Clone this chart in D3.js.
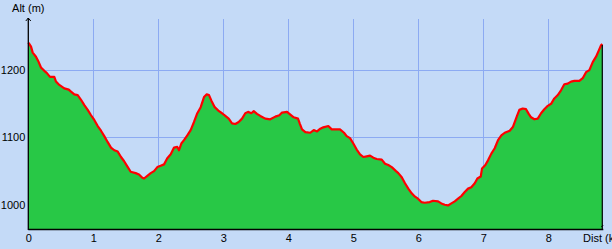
<!DOCTYPE html>
<html>
<head>
<meta charset="utf-8">
<script src="https://cdn.jsdelivr.net/npm/d3@7"></script>
<style>
  body { margin: 0; background: #c4daf7; }
  svg { display: block; }
  text { font-family: "Liberation Sans", Arial, sans-serif; font-size: 11px; fill: #000; }
</style>
</head>
<body>
<script>
var w = 612;
var h = 249;

// distance in km along the track
var dist = [0, 0.015, 0.042, 0.068, 0.118, 0.160, 0.195, 0.246, 0.283, 0.334, 0.400, 0.426, 0.477, 0.554, 0.622, 0.657, 0.708, 0.760, 0.811, 0.862, 0.914, 0.965,
    1.015, 1.068, 1.118, 1.169, 1.222, 1.272, 1.323, 1.375, 1.426, 1.472, 1.523, 1.575, 1.652, 1.703, 1.754, 1.780, 1.831, 1.883, 1.934, 1.985,
    2.037, 2.088, 2.138, 2.191, 2.242, 2.292, 2.318, 2.354, 2.395, 2.446, 2.498, 2.549, 2.600, 2.652, 2.703, 2.745, 2.780, 2.815, 2.868, 2.934, 2.980,
    3.031, 3.083, 3.134, 3.185, 3.237, 3.288, 3.338, 3.380, 3.431, 3.468, 3.518, 3.569, 3.646, 3.723, 3.800, 3.862, 3.903, 3.980,
    4.031, 4.083, 4.149, 4.175, 4.211, 4.262, 4.338, 4.391, 4.442, 4.492, 4.538, 4.615, 4.668, 4.718, 4.795, 4.857, 4.898, 4.949,
    5.000, 5.052, 5.103, 5.154, 5.206, 5.257, 5.308, 5.360, 5.437, 5.488, 5.538, 5.591, 5.657, 5.692, 5.745, 5.795, 5.846, 5.898, 5.949, 5.995,
    6.046, 6.098, 6.175, 6.226, 6.303, 6.354, 6.406, 6.457, 6.508, 6.560, 6.611, 6.662, 6.714, 6.765, 6.815, 6.868, 6.908, 6.960, 6.980,
    7.031, 7.072, 7.123, 7.175, 7.226, 7.277, 7.329, 7.406, 7.457, 7.518, 7.554, 7.606, 7.657, 7.698, 7.734, 7.785, 7.837, 7.888, 7.938, 7.991,
    8.042, 8.092, 8.145, 8.195, 8.246, 8.298, 8.349, 8.400, 8.477, 8.529, 8.580, 8.631, 8.683, 8.734, 8.775, 8.811, 8.830];

// altitude in metres
var alt = [1241, 1239, 1235, 1226, 1220, 1212, 1204, 1199, 1196, 1190, 1190, 1183, 1178, 1173, 1171, 1168, 1164, 1163, 1156, 1148, 1141, 1133,
    1126, 1117, 1110, 1102, 1093, 1085, 1081, 1079, 1071, 1065, 1057, 1049, 1047, 1045, 1040, 1039, 1043, 1047, 1050, 1056,
    1058, 1060, 1069, 1075, 1085, 1086, 1081, 1091, 1096, 1103, 1111, 1123, 1136, 1145, 1160, 1164, 1163, 1155, 1145, 1139, 1136,
    1132, 1128, 1121, 1120, 1123, 1128, 1136, 1138, 1136, 1139, 1135, 1132, 1128, 1127, 1131, 1133, 1137, 1138,
    1134, 1130, 1128, 1121, 1112, 1108, 1107, 1111, 1109, 1113, 1115, 1117, 1112, 1112, 1112, 1107, 1102, 1099,
    1091, 1082, 1075, 1071, 1072, 1073, 1070, 1068, 1067, 1061, 1059, 1056, 1050, 1047, 1041, 1032, 1024, 1017, 1012, 1009,
    1004, 1003, 1004, 1006, 1005, 1002, 1000, 999, 1002, 1005, 1009, 1013, 1019, 1024, 1026, 1032, 1039, 1042, 1054,
    1059, 1066, 1076, 1084, 1096, 1103, 1107, 1110, 1116, 1132, 1141, 1143, 1142, 1135, 1130, 1127, 1128, 1136, 1142, 1147,
    1150, 1158, 1163, 1170, 1179, 1180, 1183, 1184, 1184, 1188, 1197, 1200, 1212, 1220, 1229, 1237, 1239];

var xTicks = [0, 1, 2, 3, 4, 5, 6, 7, 8];
var yTicks = [1000, 1100, 1200];
var altDomain = [964, 1276];

var profile = dist.map(function(d, i){
    return [d, alt[i]];
});

var padLeft = 28.3, padRight = 602.3, padTop = 19, padBottom = 229;

var xScale = d3.scaleLinear()
    .domain([0, d3.max(dist)])
    .range([padLeft, padRight]);

var yScale = d3.scaleLinear()
    .domain(altDomain)
    .range([padBottom, padTop]);

var svg = d3.select("body")
    .append("svg")
    .attr("width", w)
    .attr("height", h);

svg.append("rect")
    .attr("width", w)
    .attr("height", h)
    .attr("fill", "#c4daf7");

// grid
svg.selectAll("line.vgrid")
    .data(xTicks.slice(1))
    .enter()
    .append("line")
    .attr("class", "vgrid")
    .attr("x1", function(d){ return Math.round(xScale(d)) + 0.5; })
    .attr("x2", function(d){ return Math.round(xScale(d)) + 0.5; })
    .attr("y1", padTop)
    .attr("y2", padBottom)
    .attr("stroke", "#8caaf2")
    .attr("stroke-width", 1);

svg.selectAll("line.hgrid")
    .data(yTicks)
    .enter()
    .append("line")
    .attr("class", "hgrid")
    .attr("x1", padLeft)
    .attr("x2", padRight)
    .attr("y1", function(d){ return Math.round(yScale(d)) + 0.5; })
    .attr("y2", function(d){ return Math.round(yScale(d)) + 0.5; })
    .attr("stroke", "#8caaf2")
    .attr("stroke-width", 1);

// profile
var area = d3.area()
    .x(function(d){ return xScale(d[0]); })
    .y0(padBottom)
    .y1(function(d){ return yScale(d[1]); });

var line = d3.line()
    .x(function(d){ return xScale(d[0]); })
    .y(function(d){ return yScale(d[1]); });

svg.append("path")
    .datum(profile)
    .attr("d", area)
    .attr("fill", "#28c846");

svg.append("path")
    .datum(profile)
    .attr("d", line)
    .attr("fill", "none")
    .attr("stroke", "#ff0000")
    .attr("stroke-width", 2.2)
    .attr("stroke-linejoin", "round");

var last = profile[profile.length - 1];
svg.append("line")
    .attr("x1", xScale(last[0]))
    .attr("x2", xScale(last[0]))
    .attr("y1", yScale(last[1]) + 1)
    .attr("y2", padBottom)
    .attr("stroke", "#000")
    .attr("stroke-width", 1.2);

// axes
var xAxis = d3.axisBottom(xScale)
    .tickValues(xTicks)
    .tickSize(0)
    .tickPadding(5)
    .tickFormat(d3.format("d"));

var yAxis = d3.axisLeft(yScale)
    .tickValues(yTicks)
    .tickSize(0)
    .tickPadding(3)
    .tickFormat(d3.format("d"));

var gx = svg.append("g")
    .attr("transform", "translate(0," + padBottom + ")")
    .call(xAxis);
gx.select(".domain").remove();
gx.selectAll("text").style("font-size", "11px").style("font-family", "Liberation Sans, Arial, sans-serif");

var gy = svg.append("g")
    .attr("transform", "translate(" + padLeft + ",0)")
    .call(yAxis);
gy.select(".domain").remove();
gy.selectAll("text").style("font-size", "11px").style("font-family", "Liberation Sans, Arial, sans-serif");

svg.append("line")
    .attr("x1", padLeft)
    .attr("x2", padRight + 1)
    .attr("y1", padBottom + 0.5)
    .attr("y2", padBottom + 0.5)
    .attr("stroke", "#000")
    .attr("stroke-width", 1.3);

svg.append("line")
    .attr("x1", padLeft)
    .attr("x2", padLeft)
    .attr("y1", padBottom + 1)
    .attr("y2", padTop - 1)
    .attr("stroke", "#000")
    .attr("stroke-width", 1.3);

svg.append("path")
    .attr("d", "M" + (padLeft - 2.5) + "," + (padTop + 2) + "L" + padLeft + "," + (padTop - 1) + "L" + (padLeft + 2.5) + "," + (padTop + 2))
    .attr("fill", "none")
    .attr("stroke", "#000")
    .attr("stroke-width", 1);

svg.append("path")
    .attr("d", "M" + (padRight - 1) + "," + (padBottom - 2) + "L" + (padRight + 1) + "," + (padBottom - 4))
    .attr("fill", "none")
    .attr("stroke", "#000")
    .attr("stroke-width", 1);

svg.append("text")
    .attr("x", padLeft)
    .attr("y", 12)
    .attr("text-anchor", "middle")
    .text("Alt (m)");

svg.append("text")
    .attr("x", 583)
    .attr("y", 242)
    .text("Dist (km)");
</script>
</body>
</html>
